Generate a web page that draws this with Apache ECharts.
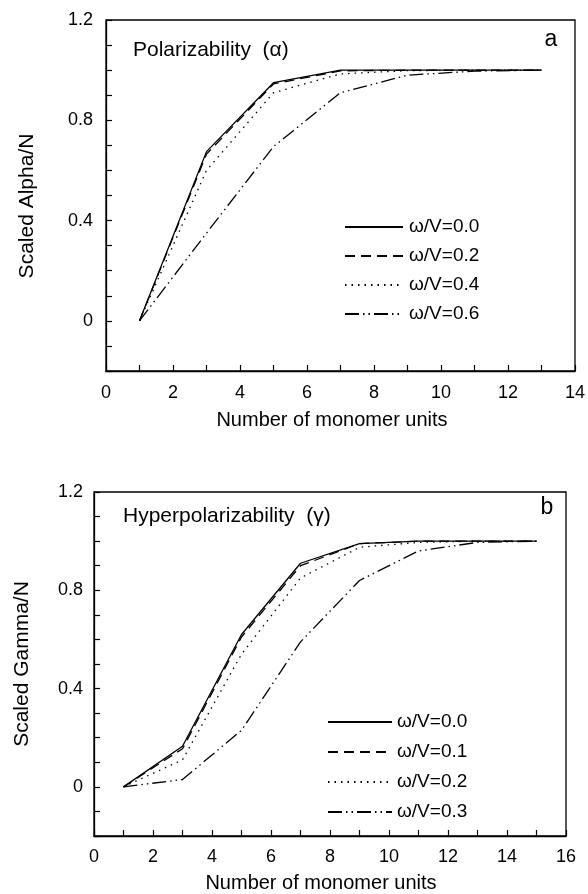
<!DOCTYPE html>
<html>
<head>
<meta charset="utf-8">
<script src="https://cdn.jsdelivr.net/npm/echarts@6/dist/echarts.min.js"></script>
<style>
  html, body { margin: 0; padding: 0; background: #fff; }
  #c1 { position: absolute; left: 0; top: 0; width: 588px; height: 447px; }
  #c2 { position: absolute; left: 0; top: 447px; width: 588px; height: 447px; }
</style>
</head>
<body>
<div id="c1"></div>
<div id="c2"></div>
<script>
// ---- Data ----
const alphaX = [1, 3, 5, 7, 9, 11, 13];
const alphaNames = ['ω/V=0.0', 'ω/V=0.2', 'ω/V=0.4', 'ω/V=0.6'];
const alpha00 = [0, 0.675, 0.95, 1.0, 1.0, 1.0, 1.0];
const alpha02 = [0, 0.665, 0.945, 0.997, 1.0, 1.0, 1.0];
const alpha04 = [0, 0.60, 0.91, 0.985, 0.998, 1.0, 1.0];
const alpha06 = [0, 0.35, 0.695, 0.91, 0.98, 0.996, 1.0];

const gammaX = [1, 3, 5, 7, 9, 11, 13, 15];
const gammaNames = ['ω/V=0.0', 'ω/V=0.1', 'ω/V=0.2', 'ω/V=0.3'];
const gamma00 = [0, 0.165, 0.62, 0.91, 0.99, 1.0, 1.0, 1.0];
const gamma01 = [0, 0.155, 0.61, 0.90, 0.99, 1.0, 1.0, 1.0];
const gamma02 = [0, 0.11, 0.54, 0.85, 0.975, 0.995, 1.0, 1.0];
const gamma03 = [0, 0.03, 0.23, 0.59, 0.84, 0.96, 0.995, 1.0];

const alphaXTicks = [0, 14];
const gammaXTicks = [0, 16];
const yRange = [-0.2, 1.2];

// ---- Styling ----
const FONT = 'Liberation Sans, Arial, Helvetica, sans-serif';
const INK = '#000';
const dashTypes = ['solid', [10, 6], [1.5, 5], [14, 4, 1.5, 4, 1.5, 4]];

function zip(xs, ys) { return xs.map((x, i) => [x, ys[i]]); }

function makeSeries(names, xs, ysList) {
  return names.map((n, i) => ({
    name: n,
    type: 'line',
    data: zip(xs, ysList[i]),
    symbol: 'none',
    smooth: false,
    lineStyle: { color: INK, width: 1.3, type: dashTypes[i] },
    itemStyle: { color: INK },
    z: 5 - i
  }));
}

function yAxisCfg(margin) {
  return {
    type: 'value', min: yRange[0], max: yRange[1], interval: 0.1,
    axisLine: { show: true, lineStyle: { color: INK, width: 1.3 } },
    axisTick: { show: true, inside: true, length: 6, lineStyle: { color: INK, width: 1.2 } },
    splitLine: { show: false },
    axisLabel: {
      margin: margin, color: INK, fontFamily: FONT, fontSize: 18,
      formatter: function (v) {
        const k = Math.round(v * 10);
        if (k < 0 || k % 4 !== 0) return '';
        return k === 0 ? '0' : (k / 10).toFixed(1);
      }
    }
  };
}

function xAxisCfg(range, margin) {
  return {
    type: 'value', min: range[0], max: range[1], interval: 1,
    axisLine: { show: true, onZero: false, lineStyle: { color: INK, width: 1.3 } },
    axisTick: { show: true, inside: true, length: 6, lineStyle: { color: INK, width: 1.2 } },
    splitLine: { show: false },
    axisLabel: {
      margin: margin, color: INK, fontFamily: FONT, fontSize: 18,
      showMinLabel: true, showMaxLabel: true,
      formatter: function (v) { return (Math.round(v) % 2 === 0) ? String(Math.round(v)) : ''; }
    }
  };
}

function legendCfg(names, left, top, itemWidth, gap, textPad) {
  return {
    data: names, orient: 'vertical', left: left, top: top,
    itemWidth: itemWidth, itemHeight: 20, itemGap: gap,
    selectedMode: false,
    itemStyle: { opacity: 0, borderWidth: 0 },
    textStyle: { color: INK, fontFamily: FONT, fontSize: 19, padding: [0, 0, 0, textPad], lineHeight: 20 }
  };
}

function textEl(str, x, y, size, rot, align) {
  return {
    type: 'text', x: x, y: y, rotation: rot || 0,
    style: { text: str, fill: INK, font: size + 'px ' + FONT, textAlign: align || 'center', textVerticalAlign: 'middle' }
  };
}

// ---- Chart (a): Polarizability ----
const ch1 = echarts.init(document.getElementById('c1'), null, { renderer: 'canvas' });
ch1.setOption({
  animation: false,
  backgroundColor: '#fff',
  grid: { left: 106, top: 20, width: 470, height: 351, show: true, borderColor: INK, borderWidth: 1.3, containLabel: false },
  xAxis: xAxisCfg(alphaXTicks, 13),
  yAxis: yAxisCfg(13),
  legend: legendCfg(alphaNames, 339, 212, 58, 9, 1),
  series: makeSeries(alphaNames, alphaX, [alpha00, alpha02, alpha04, alpha06]),
  graphic: [
    textEl('Polarizability  (α)', 133, 50, 21, 0, 'left'),
    textEl('a', 551, 40, 23, 0, 'center'),
    textEl('Scaled Alpha/N', 27, 206, 21, Math.PI / 2, 'center'),
    textEl('Number of monomer units', 332, 420, 20, 0, 'center')
  ]
});

// ---- Chart (b): Hyperpolarizability ----
const ch2 = echarts.init(document.getElementById('c2'), null, { renderer: 'canvas' });
ch2.setOption({
  animation: false,
  backgroundColor: '#fff',
  grid: { left: 94, top: 45, width: 472, height: 344, show: true, borderColor: INK, borderWidth: 1.3, containLabel: false },
  xAxis: xAxisCfg(gammaXTicks, 12),
  yAxis: yAxisCfg(11),
  legend: legendCfg(gammaNames, 322, 260, 64, 10, 0),
  series: makeSeries(gammaNames, gammaX, [gamma00, gamma01, gamma02, gamma03]),
  graphic: [
    textEl('Hyperpolarizability  (γ)', 123, 69, 21, 0, 'left'),
    textEl('b', 547, 61, 23, 0, 'center'),
    textEl('Scaled Gamma/N', 22, 217, 21, Math.PI / 2, 'center'),
    textEl('Number of monomer units', 321, 436, 20, 0, 'center')
  ]
});
</script>
</body>
</html>
